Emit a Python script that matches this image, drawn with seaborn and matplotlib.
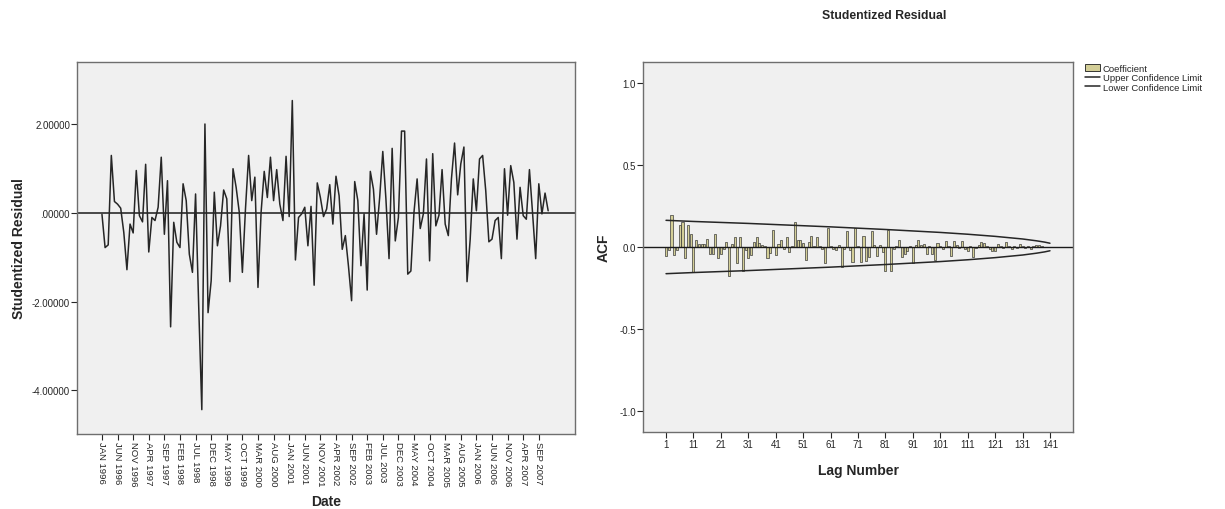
import numpy as np
import pandas as pd
import matplotlib
matplotlib.use("Agg")
import matplotlib.pyplot as plt
import seaborn as sns
from matplotlib.patches import Patch
from matplotlib.lines import Line2D

# ---------------- data ----------------
residuals = [
    -0.03, -0.78, -0.72, 1.30, 0.26, 0.20, 0.11, -0.44, -1.28, -0.25,
    -0.45, 0.96, -0.06, -0.20, 1.10, -0.88, -0.10, -0.17, 0.13, 1.26,
    -0.48, 0.73, -2.57, -0.21, -0.66, -0.78, 0.66, 0.28, -0.93, -1.34,
    0.43, -2.10, -4.44, 2.01, -2.25, -1.53, 0.47, -0.74, -0.29, 0.52,
    0.32, -1.55, 1.00, 0.58, 0.02, -1.34, 0.10, 1.30, 0.28, 0.81,
    -1.68, 0.02, 0.94, 0.35, 1.26, 0.28, 0.98, 0.20, -0.17, 1.28,
    -0.08, 2.54, -1.06, -0.10, -0.02, 0.13, -0.74, 0.15, -1.63, 0.68,
    0.35, -0.08, 0.09, 0.64, -0.25, 0.83, 0.39, -0.82, -0.51, -1.20,
    -1.98, 0.71, 0.28, -1.19, -0.02, -1.74, 0.94, 0.54, -0.48, 0.35,
    1.39, 0.32, -1.03, 1.46, -0.63, -0.10, 1.85, 1.85, -1.38, -1.31,
    0.02, 0.77, -0.35, -0.02, 1.22, -1.08, 1.34, -0.29, -0.05, 0.98,
    -0.25, -0.51, 0.77, 1.58, 0.41, 1.11, 1.49, -1.55, -0.60, 0.77,
    0.05, 1.22, 1.30, 0.50, -0.65, -0.59, -0.17, -0.10, -1.03, 1.00,
    -0.05, 1.07, 0.69, -0.59, 0.58, -0.06, -0.14, 0.98, 0.00, -1.03,
    0.66, -0.02, 0.45, 0.05,
]
date_tick_labels = [
    "JAN 1996", "JUN 1996", "NOV 1996", "APR 1997", "SEP 1997", "FEB 1998",
    "JUL 1998", "DEC 1998", "MAY 1999", "OCT 1999", "MAR 2000", "AUG 2000",
    "JAN 2001", "JUN 2001", "NOV 2001", "APR 2002", "SEP 2002", "FEB 2003",
    "JUL 2003", "DEC 2003", "MAY 2004", "OCT 2004", "MAR 2005", "AUG 2005",
    "JAN 2006", "JUN 2006", "NOV 2006", "APR 2007", "SEP 2007",
]

acf = [
    -0.055, -0.020, 0.195, -0.050, -0.020, 0.135, 0.150, -0.065, 0.135, 0.080,
    -0.150, 0.040, 0.020, 0.020, 0.020, 0.050, -0.040, -0.045, 0.080, -0.070,
    -0.045, -0.010, 0.030, -0.175, 0.020, 0.060, -0.100, 0.060, -0.145, -0.020,
    -0.065, -0.050, 0.030, 0.060, 0.025, 0.010, 0.005, -0.065, -0.035, 0.105,
    -0.050, 0.020, 0.045, -0.015, 0.060, -0.030, 0.005, 0.155, 0.040, 0.040,
    0.025, -0.080, 0.030, 0.065, 0.005, 0.060, 0.005, -0.010, -0.100, 0.115,
    0.005, -0.010, -0.020, 0.010, -0.125, -0.015, 0.095, -0.020, -0.090, 0.115,
    0.005, -0.090, 0.070, -0.085, -0.060, 0.095, 0.015, -0.055, 0.010, -0.030,
    -0.145, 0.105, -0.145, -0.010, 0.005, 0.040, -0.060, -0.045, -0.025, 0.005,
    -0.100, 0.010, 0.040, 0.010, 0.020, -0.045, 0.005, -0.040, -0.080, 0.025,
    0.005, -0.015, 0.035, 0.005, -0.055, 0.035, 0.010, -0.005, 0.035, -0.010,
    -0.025, 0.005, -0.060, -0.005, 0.010, 0.030, 0.025, 0.005, -0.010, -0.025,
    -0.025, 0.020, 0.005, -0.005, 0.030, 0.005, -0.010, 0.005, -0.005, 0.020,
    0.005, -0.005, 0.005, -0.010, 0.005, 0.010, 0.015, 0.005, 0.002, -0.002,
    0.002,
]
cl_lags = [1, 11, 21, 31, 41, 51, 61, 71, 81, 91, 101, 111, 121, 131, 136, 139, 141]
upper_cl = [0.163, 0.156, 0.150, 0.144, 0.137, 0.130, 0.123, 0.115, 0.107,
            0.098, 0.089, 0.078, 0.065, 0.049, 0.038, 0.030, 0.023]
lower_cl = [-v for v in upper_cl]
lag_ticks = [1, 11, 21, 31, 41, 51, 61, 71, 81, 91, 101, 111, 121, 131, 141]

# ---------------- style ----------------
sns.set_theme(style="ticks")
plt.rcParams["font.family"] = ["Liberation Sans", "DejaVu Sans"]

BG = "#F0F0F0"
FRAME = "#6E6E6E"
LINE = "#262626"
BAR = "#D3CE97"

fig = plt.figure(figsize=(12.25, 5.10), dpi=100)
W, H = 1225, 510

def add_ax(l, t, r, b):
    return fig.add_axes([l / W, 1 - b / H, (r - l) / W, (b - t) / H])

# ---------------- left panel ----------------
ax1 = add_ax(77, 63, 575, 435)
ax1.set_facecolor(BG)
df1 = pd.DataFrame({"t": np.arange(len(residuals)), "res": residuals})
sns.lineplot(data=df1, x="t", y="res", ax=ax1, color=LINE, lw=1.1)
ax1.axhline(0, color="#1a1a1a", lw=1.1, zorder=1)
ax1.set_xlim(-8, 151.6)
ax1.set_ylim(-4.99, 3.41)
ax1.set_yticks([-4, -2, 0, 2])
ax1.set_yticklabels(["-4.00000", "-2.00000", ".00000", "2.00000"])
ax1.set_xticks(np.arange(0, 5 * len(date_tick_labels), 5))
ax1.set_xticklabels(date_tick_labels, rotation=-90, fontsize=6.8)
ax1.tick_params(axis="y", labelsize=7, length=4, width=0.8, color=LINE, pad=1)
ax1.tick_params(axis="x", length=4, width=0.8, color=LINE, pad=1)
ax1.set_xlabel("Date", fontsize=10, fontweight="bold", labelpad=6)
ax1.set_ylabel("Studentized Residual", fontsize=10, fontweight="bold", labelpad=4)
for s in ax1.spines.values():
    s.set_color(FRAME)
    s.set_linewidth(1.0)

# ---------------- right panel ----------------
ax2 = add_ax(643, 63, 1073, 433)
ax2.set_facecolor(BG)
lags = np.arange(1, len(acf) + 1)
df2 = pd.DataFrame({"lag": lags, "acf": acf})
sns.barplot(data=df2, x="lag", y="acf", ax=ax2, native_scale=True, width=0.75,
            color=BAR, edgecolor="#2a2a2a", linewidth=0.45, saturation=1)
ax2.axhline(0, color="#1a1a1a", lw=1.0, zorder=1)
dfc = pd.DataFrame({"lag": cl_lags, "upper": upper_cl, "lower": lower_cl})
sns.lineplot(data=dfc, x="lag", y="upper", ax=ax2, color=LINE, lw=1.1)
sns.lineplot(data=dfc, x="lag", y="lower", ax=ax2, color=LINE, lw=1.1)
ax2.set_xlim(-7.4, 149.4)
ax2.set_ylim(-1.13, 1.13)
ax2.set_yticks([-1.0, -0.5, 0.0, 0.5, 1.0])
ax2.set_yticklabels(["-1.0", "-0.5", "0.0", "0.5", "1.0"])
ax2.set_xticks(lag_ticks)
ax2.set_xticklabels([str(v) for v in lag_ticks])
ax2.tick_params(axis="both", labelsize=7, length=4, width=0.8, color=LINE, pad=1)
ax2.set_xlabel("Lag Number", fontsize=10, fontweight="bold", labelpad=10)
ax2.set_ylabel("ACF", fontsize=10, fontweight="bold", labelpad=6)
for s in ax2.spines.values():
    s.set_color(FRAME)
    s.set_linewidth(1.0)

handles = [
    Patch(facecolor=BAR, edgecolor="#1a1a1a", linewidth=0.6, label="Coefficient"),
    Line2D([0], [0], color=LINE, lw=1.1, label="Upper Confidence Limit"),
    Line2D([0], [0], color=LINE, lw=1.1, label="Lower Confidence Limit"),
]
fig.legend(handles=handles, loc="upper left", bbox_to_anchor=(1078 / W, 1 - 58 / H),
           frameon=False, fontsize=6.8, handlelength=1.6, handleheight=0.8,
           handletextpad=0.3, labelspacing=0.05, borderpad=0.2)

fig.text(884 / W, 1 - 16 / H, "Studentized Residual", ha="center", va="center",
         fontsize=8.8, fontweight="bold")

fig.savefig("out.png", dpi=100, facecolor="white")
